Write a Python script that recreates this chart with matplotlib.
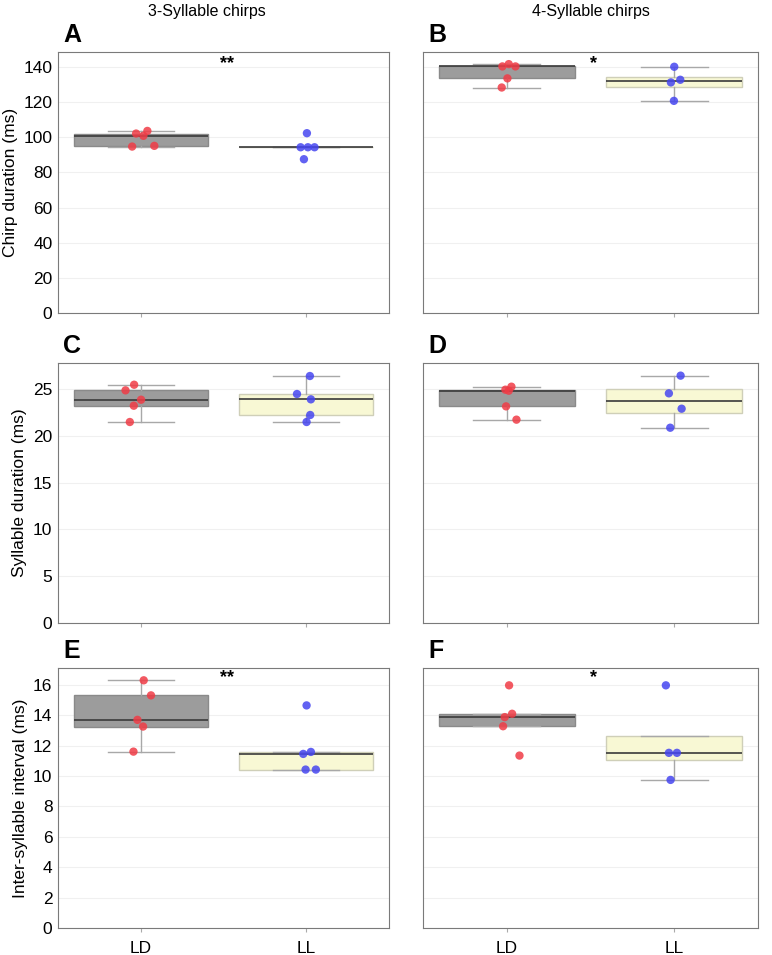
import numpy as np
import matplotlib
matplotlib.use("Agg")
import matplotlib.pyplot as plt

plt.rcParams['font.family'] = ['Liberation Sans', 'DejaVu Sans']

groups = ["LD", "LL"]
col_titles = ["3-Syllable chirps", "4-Syllable chirps"]
row_labels = ["Chirp duration (ms)", "Syllable duration (ms)", "Inter-syllable interval (ms)"]
panel_letters = ["A", "B", "C", "D", "E", "F"]

# values (ms)
chirp3_ld = [102.1, 100.8, 103.6, 94.7, 95.1]
chirp3_ll = [102.3, 94.3, 94.3, 94.3, 87.5]
chirp4_ld = [140.3, 141.6, 140.3, 133.5, 128.3]
chirp4_ll = [140.1, 131.2, 132.7, 120.7]
syl3_ld = [24.84, 25.44, 23.84, 23.20, 21.46]
syl3_ll = [26.37, 24.45, 23.88, 22.21, 21.46]
syl4_ld = [25.23, 24.91, 24.80, 23.13, 21.71]
syl4_ll = [26.41, 24.52, 22.88, 20.85]
isi3_ld = [16.29, 15.30, 13.69, 13.25, 11.60]
isi3_ll = [14.64, 11.45, 11.58, 10.42, 10.42]
isi4_ld = [15.96, 14.09, 13.87, 13.27, 11.34]
isi4_ll = [15.96, 11.52, 11.52, 9.74]

# horizontal jitter of the dots
jit3_ld = [-0.028, 0.016, 0.04, -0.052, 0.082]
jit3_ll = [0.004, -0.034, 0.01, 0.05, -0.014]
jit4_ld = [-0.026, 0.012, 0.052, 0.004, -0.03]
jit4_ll = [0.0, -0.02, 0.036, -0.002]
jsyl3_ld = [-0.092, -0.04, 0.002, -0.042, -0.066]
jsyl3_ll = [0.022, -0.056, 0.028, 0.024, 0.002]
jsyl4_ld = [0.028, -0.008, 0.012, -0.004, 0.058]
jsyl4_ll = [0.038, -0.032, 0.044, -0.024]
jisi3_ld = [0.018, 0.062, -0.02, 0.014, -0.044]
jisi3_ll = [0.002, -0.018, 0.028, -0.004, 0.058]
jisi4_ld = [0.014, 0.032, -0.012, -0.022, 0.076]
jisi4_ll = [-0.05, -0.032, 0.016, -0.022]

panels = [
    (chirp3_ld, chirp3_ll, jit3_ld, jit3_ll),
    (chirp4_ld, chirp4_ll, jit4_ld, jit4_ll),
    (syl3_ld, syl3_ll, jsyl3_ld, jsyl3_ll),
    (syl4_ld, syl4_ll, jsyl4_ld, jsyl4_ll),
    (isi3_ld, isi3_ll, jisi3_ld, jisi3_ll),
    (isi4_ld, isi4_ll, jisi4_ld, jisi4_ll),
]
signif = {0: ("**", 142), 1: ("*", 142), 4: ("**", 16.5), 5: ("*", 16.5)}
ylims = [148.5, 148.5, 27.76, 27.76, 17.1, 17.1]
yticks = [np.arange(0, 141, 20), np.arange(0, 141, 20),
          np.arange(0, 26, 5), np.arange(0, 26, 5),
          np.arange(0, 17, 2), np.arange(0, 17, 2)]

fig = plt.figure(figsize=(7.72, 9.55), dpi=100)
lefts = [58 / 772, 423 / 772]
widths = [331 / 772, 335 / 772]
bottoms = [1 - 313 / 955, 1 - 623 / 955, 1 - 928 / 955]
heights = [261 / 955, 260 / 955, 260 / 955]

box_face = ["#9c9c9c", "#f8f8d4"]
box_edge = ["#8a8a8a", "#cfcfb8"]
dot_col = ["#f03c46", "#4646f0"]

for i, (ld, ll, jld, jll) in enumerate(panels):
    r, c = divmod(i, 2)
    ax = fig.add_axes([lefts[c], bottoms[r], widths[c], heights[r]])
    bp = ax.boxplot([ld, ll], positions=[0, 1], widths=0.81, patch_artist=True,
                    showfliers=False, whis=1.5, capwidths=0.4)
    for k in range(2):
        bp['boxes'][k].set(facecolor=box_face[k], edgecolor=box_edge[k], linewidth=1)
        bp['medians'][k].set(color="#3a3a3a", linewidth=1.2)
    for w in bp['whiskers'] + bp['caps']:
        w.set(color="#a8a8a8", linewidth=1)
    for k, (vals, jit) in enumerate([(ld, jld), (ll, jll)]):
        ax.scatter(np.array(jit) + k, vals, s=36, color=dot_col[k], alpha=0.85,
                   edgecolors="none", zorder=5)
    if i in signif:
        txt, yy = signif[i]
        ax.text(0.52, yy, txt, ha="center", va="center", fontsize=13, fontweight="bold")
    ax.set_xlim(-0.5, 1.5)
    ax.set_ylim(0, ylims[i])
    ax.set_yticks(yticks[i])
    ax.set_xticks([0, 1])
    ax.yaxis.grid(True, color="#f0f0f0", linewidth=0.8)
    ax.set_axisbelow(True)
    for sp in ax.spines.values():
        sp.set_color("#7a7a7a")
    ax.tick_params(axis="y", length=0, labelsize=12.5, pad=4)
    ax.tick_params(axis="x", length=3, color="#aaaaaa", labelsize=12.5, pad=6)
    if r == 2:
        ax.set_xticklabels(groups)
    else:
        ax.set_xticklabels([])
    if c == 0:
        ax.set_ylabel(row_labels[r], fontsize=12.5, labelpad=4)
    else:
        ax.set_yticklabels([])
    ax.text(0.015, 1.02, panel_letters[i], transform=ax.transAxes, fontsize=18,
            fontweight="bold", va="bottom", ha="left")
    if r == 0:
        ax.text(0.45 if c == 0 else 0.5, 1.155, col_titles[c], transform=ax.transAxes,
                ha="center", va="center", fontsize=11.5)

fig.savefig("out.png", dpi=100)
